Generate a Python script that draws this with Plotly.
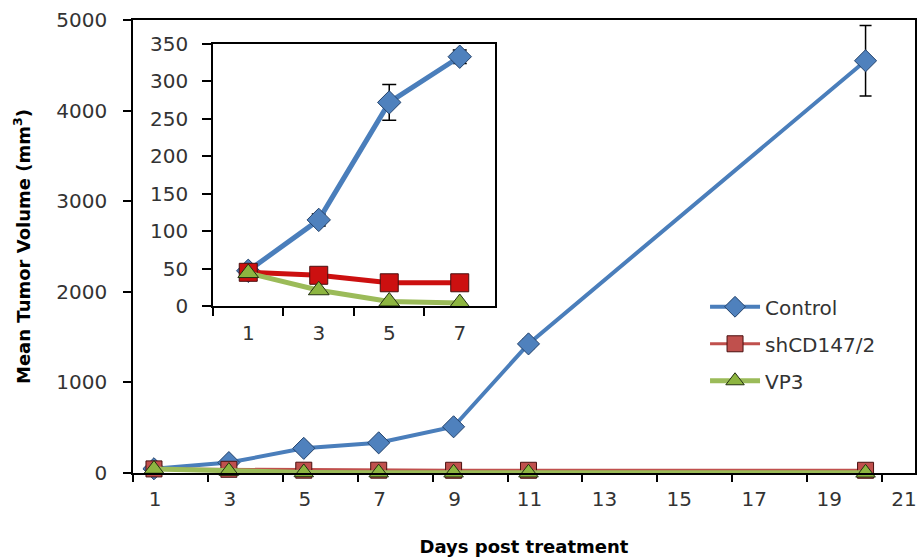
import plotly.graph_objects as go

days = [1, 3, 5, 7, 9, 11, 20]
control = [47, 115, 272, 333, 510, 1425, 4550]
control_err = [5, 8, 24, 9, 30, 50, 390]
shcd147 = [45, 41, 31, 31, 30, 30, 30]
vp3 = [44, 21, 6, 4, 3, 3, 2]

inset_days = ["1", "3", "5", "7"]
n_in = len(inset_days)

x_tick_text = ["1", "3", "5", "7", "9", "11", "13", "15", "17", "19", "21"]
x_tick_vals = [0.44, 2.44, 4.44, 6.44, 8.44, 10.44, 12.44, 14.44, 16.44, 18.44, 20.44]

BLUE = "#4A7EBB"
BLUE_M = "#4F81BD"
RED_L = "#C0504D"
RED_M = "#CC1010"
GREEN = "#9BBB59"
GREEN_M = "#8DB540"
FONT = "DejaVu Sans"

fig = go.Figure()

# main chart
fig.add_trace(go.Scatter(
    x=days, y=control, name="Control", mode="lines+markers", legendgroup="a",
    line=dict(color=BLUE, width=4),
    marker=dict(symbol="diamond", size=17, color=BLUE_M, line=dict(color="#23426B", width=1)),
    error_y=dict(type="data", array=control_err, color="black", thickness=1.5, width=6),
    cliponaxis=False, xaxis="x", yaxis="y"))
fig.add_trace(go.Scatter(
    x=days, y=shcd147, name="shCD147/2", mode="lines+markers", legendgroup="b",
    line=dict(color=RED_L, width=3),
    marker=dict(symbol="square", size=16, color=RED_L, line=dict(color="#4A1010", width=1)),
    cliponaxis=False, xaxis="x", yaxis="y"))
fig.add_trace(go.Scatter(
    x=days, y=vp3, name="VP3", mode="lines+markers", legendgroup="c",
    line=dict(color=GREEN, width=5),
    marker=dict(symbol="triangle-up", size=17, color=GREEN_M, line=dict(color="#233010", width=1)),
    cliponaxis=False, xaxis="x", yaxis="y"))

# inset chart
fig.add_trace(go.Scatter(
    x=inset_days, y=control[:n_in], mode="lines+markers", showlegend=False,
    line=dict(color=BLUE, width=5),
    marker=dict(symbol="diamond", size=18, color=BLUE_M, line=dict(color="#23426B", width=1)),
    error_y=dict(type="data", array=control_err[:n_in], color="black", thickness=1.5, width=7),
    cliponaxis=False, xaxis="x2", yaxis="y2"))
fig.add_trace(go.Scatter(
    x=inset_days, y=shcd147[:n_in], mode="lines+markers", showlegend=False,
    line=dict(color=RED_M, width=5),
    marker=dict(symbol="square", size=18, color=RED_M, line=dict(color="#4A1010", width=1)),
    cliponaxis=False, xaxis="x2", yaxis="y2"))
fig.add_trace(go.Scatter(
    x=inset_days, y=vp3[:n_in], mode="lines+markers", showlegend=False,
    line=dict(color=GREEN, width=5),
    marker=dict(symbol="triangle-up", size=18, color=GREEN_M, line=dict(color="#233010", width=1)),
    cliponaxis=False, xaxis="x2", yaxis="y2"))

axis_font = dict(family=FONT, size=20, color="#333333")

fig.update_layout(
    width=919, height=557,
    margin=dict(l=133, r=4, t=20, b=84),
    paper_bgcolor="white", plot_bgcolor="white",
    font=dict(family=FONT, size=20, color="#333333"),
    showlegend=True,
    legend=dict(x=0.7315, y=0.41, xanchor="left", yanchor="top",
                font=dict(family=FONT, size=20, color="#333333"),
                itemwidth=50, bgcolor="rgba(0,0,0,0)", tracegroupgap=8),
    xaxis=dict(range=[0.44, 21.32], tickvals=x_tick_vals, ticktext=x_tick_text,
               ticklabelshift=22, ticklabeloverflow="allow", ticks="outside", ticklen=7,
               tickwidth=1.5, tickcolor="black", showline=True, linecolor="black",
               linewidth=1.5, mirror=True, showgrid=False, zeroline=False,
               tickfont=axis_font, automargin=False,
               title=dict(text="<b>Days post treatment</b>", standoff=32,
                          font=dict(family=FONT, size=18, color="black"))),
    yaxis=dict(range=[0, 5000], dtick=1000, ticks="outside", ticklen=8, tickwidth=1.5,
               tickcolor="black", showline=True, linecolor="black", linewidth=1.5,
               mirror=True, showgrid=False, zeroline=False, tickfont=axis_font,
               ticklabelstandoff=12, automargin=False,
               title=dict(text="<b>Mean Tumor Volume (mm<sup>3</sup>)</b>", standoff=21,
                          font=dict(family=FONT, size=18, color="black"))),
    xaxis2=dict(domain=[0.1023, 0.4629], anchor="y2", type="category",
                range=[-0.5, 3.5], tickson="boundaries", ticks="outside", ticklen=8,
                tickwidth=1.5, tickcolor="black", showline=True, linecolor="black",
                linewidth=1.5, mirror=True, showgrid=False, zeroline=False,
                tickfont=axis_font, ticklabelstandoff=8),
    yaxis2=dict(domain=[0.3687, 0.947], anchor="x2", range=[0, 350], dtick=50,
                ticks="outside", ticklen=9, tickwidth=1.5, tickcolor="black",
                showline=True, linecolor="black", linewidth=1.5, mirror=True,
                showgrid=False, zeroline=False, tickfont=axis_font,
                ticklabelstandoff=10),
)

fig.write_html("out.html")
